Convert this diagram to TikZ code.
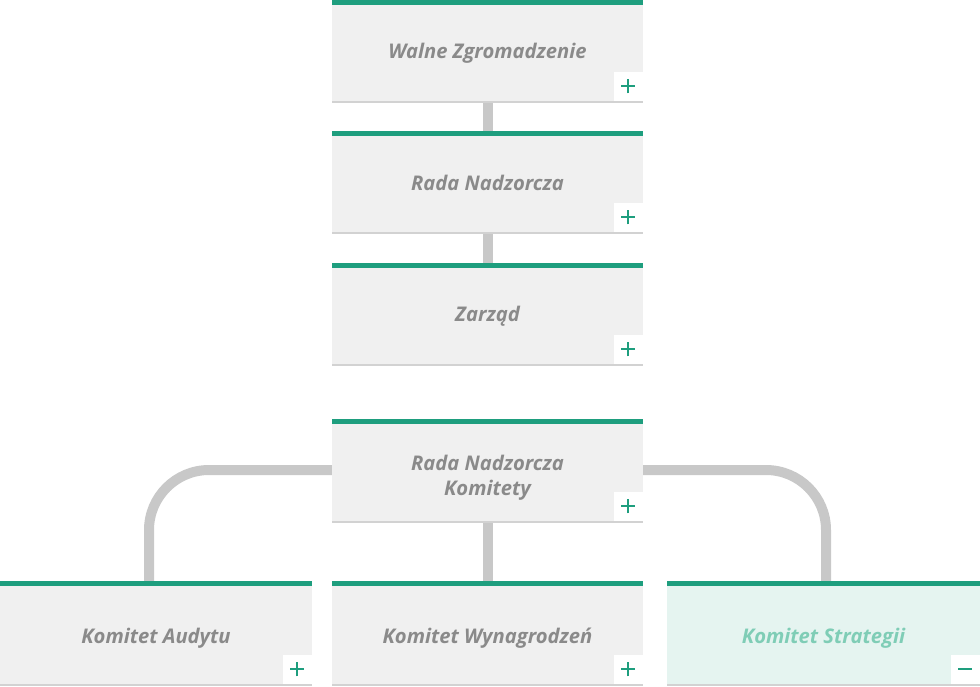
\documentclass[tikz,border=0pt]{standalone}
\usepackage{fontspec}
\setmainfont{Open Sans}
\definecolor{gr}{HTML}{1E9E7E}
\definecolor{boxg}{HTML}{F0F0F0}
\definecolor{txtg}{HTML}{8A8A8A}
\definecolor{shad}{HTML}{D2D2D2}
\definecolor{conn}{HTML}{C8C8C8}
\definecolor{lgr}{HTML}{E5F4F0}
\definecolor{ltxt}{HTML}{7FCDB6}
\tikzset{
  orgbox/.style={rectangle, fill=boxg, minimum width=311pt, inner sep=0pt, outer sep=0pt},
  boxtext/.style={text=txtg, font=\fontsize{20.2}{25}\selectfont\bfseries\itshape, align=center, inner sep=0pt},
  connline/.style={draw=conn, line width=10pt},
  iconbox/.style={rectangle, fill=white, minimum size=29pt, inner sep=0pt, anchor=south east},
  iconline/.style={draw=gr, line width=2.2pt},
}
\newcommand{\decorate}[2]{%
  \fill[gr] (#1.north west) rectangle ([yshift=-5pt]#1.north east);
  \fill[shad] (#1.south west) rectangle ([yshift=-2pt]#1.south east);
  \node[iconbox] (#1icon) at (#1.south east) {};
  \ifx#2p
    \draw[iconline] ([xshift=-7pt]#1icon.center) -- ([xshift=7pt]#1icon.center);
    \draw[iconline] ([yshift=-7pt]#1icon.center) -- ([yshift=7pt]#1icon.center);
  \else
    \draw[iconline] ([xshift=-7pt]#1icon.center) -- ([xshift=7pt]#1icon.center);
  \fi
}
\pgfdeclarelayer{bg}\pgfsetlayers{bg,main}
\begin{document}
\begin{tikzpicture}[x=1pt,y=-1pt]
\useasboundingbox (0,0) rectangle (980,686);
\node[orgbox, minimum height=101pt, anchor=north] (wz) at (487.5,0) {};
\node[orgbox, minimum height=101pt, anchor=north] (rn) at (487.5,131) {};
\node[orgbox, minimum height=101pt, anchor=north] (za) at (487.5,263) {};
\node[orgbox, minimum height=102pt, anchor=north] (rk) at (487.5,419) {};
\node[orgbox, minimum width=312pt, minimum height=103pt, anchor=north] (ka) at (156,581) {};
\node[orgbox, minimum height=103pt, anchor=north] (kw) at (487.5,581) {};
\node[orgbox, minimum width=313pt, minimum height=103pt, anchor=north, fill=lgr] (ks) at (823.5,581) {};
% texts (baseline positions)
\node[boxtext, anchor=base] (wzt) at (487.5,58) {Walne Zgromadzenie};
\node[boxtext, anchor=base] (rnt) at (487.5,190) {Rada Nadzorcza};
\node[boxtext, anchor=base] (zat) at (487.5,321) {Zarząd};
\node[boxtext, anchor=base] (rkt1) at (487.5,470) {Rada Nadzorcza};
\node[boxtext, anchor=base] (rkt2) at (487.5,495) {Komitety};
\node[boxtext, anchor=base] (kat) at (156,643) {Komitet Audytu};
\node[boxtext, anchor=base] (kwt) at (487.5,643) {Komitet Wynagrodzeń};
\node[boxtext, anchor=base, text=ltxt] (kst) at (823.5,643) {Komitet Strategii};
\begin{pgfonlayer}{bg}
\draw[connline] (wz.south) -- (rn.north);
\draw[connline] (rn.south) -- (za.north);
\draw[connline] (rk.south) -- (kw.north);
\draw[connline, rounded corners=60pt] (rk.west) -| ([xshift=-7pt]ka.north);
\draw[connline, rounded corners=60pt] (rk.east) -| ([xshift=2.5pt]ks.north);
\end{pgfonlayer}
\decorate{wz}{p}
\decorate{rn}{p}
\decorate{za}{p}
\decorate{rk}{p}
\decorate{ka}{p}
\decorate{kw}{p}
\decorate{ks}{m}
\end{tikzpicture}
\end{document}
